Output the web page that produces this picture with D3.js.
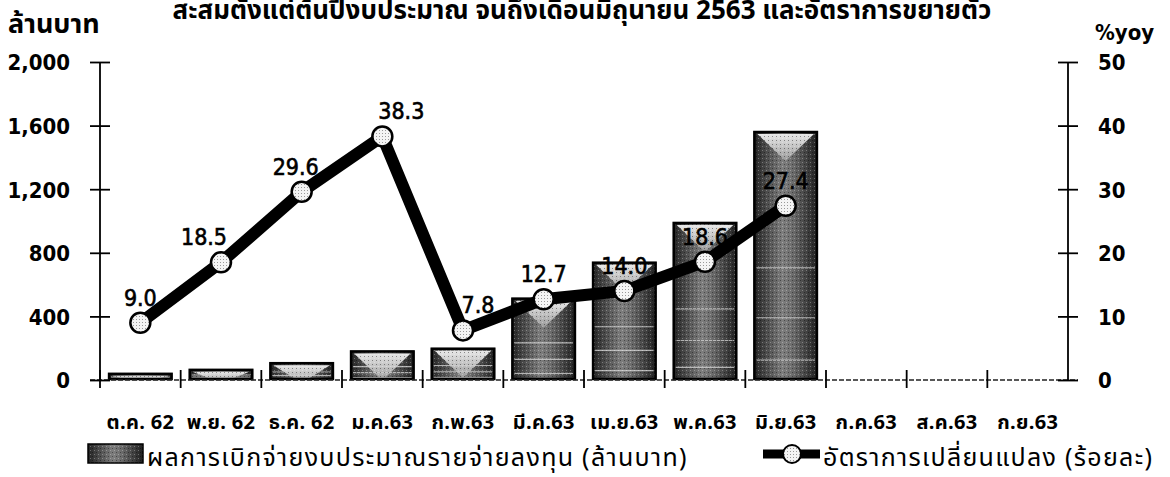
<!DOCTYPE html>
<html><head><meta charset="utf-8">
<script src="https://cdn.jsdelivr.net/npm/d3@7"></script>
<style>
html,body{margin:0;padding:0;background:#fff;}
svg{display:block;}
.num{font-family:"DejaVu Sans Condensed","DejaVu Sans",Tahoma,sans-serif;font-weight:bold;fill:#000;}
.thai{font-family:Tahoma,"Noto Sans Thai","Noto Sans Thai UI","Loma","Garuda","Noto Sans","DejaVu Sans",sans-serif;fill:#000;}
</style></head><body>
<svg id="chart" width="1170" height="477"></svg>
<script>
const categories = ["ต.ค. 62","พ.ย. 62","ธ.ค. 62","ม.ค.63","ก.พ.63","มี.ค.63","เม.ย.63","พ.ค.63","มิ.ย.63","ก.ค.63","ส.ค.63","ก.ย.63"];
const budget = [45, 70, 112, 186, 203, 518, 744, 994, 1566, null, null, null];
const growth = [9.0, 18.5, 29.6, 38.3, 7.8, 12.7, 14.0, 18.6, 27.4, null, null, null];
const leftTicks = [0, 400, 800, 1200, 1600, 2000];
const rightTicks = [0, 10, 20, 30, 40, 50];
const titleText = "สะสมตั้งแต่ต้นปีงบประมาณ จนถึงเดือนมิถุนายน 2563 และอัตราการขยายตัว";
const leftUnit = "ล้านบาท";
const rightUnit = "%yoy";
const legendBar = "ผลการเบิกจ่ายงบประมาณรายจ่ายลงทุน (ล้านบาท)";
const legendLine = "อัตราการเปลี่ยนแปลง (ร้อยละ)";

const svg = d3.select("#chart");
const L = 100, R = 1068, T = 62, B = 380;

const x = d3.scaleBand().domain(categories).range([L, R]).paddingInner(0.2).paddingOuter(0.1);
const yL = d3.scaleLinear().domain([0, 2000]).range([B, T]);
const yR = d3.scaleLinear().domain([0, 50]).range([B, T]);

const defs = svg.append("defs");
const g1 = defs.append("linearGradient").attr("id","barGrad").attr("x1","0").attr("x2","1").attr("y1","0").attr("y2","0");
g1.append("stop").attr("offset","0%").attr("stop-color","#222");
g1.append("stop").attr("offset","45%").attr("stop-color","#7e7e7e");
g1.append("stop").attr("offset","60%").attr("stop-color","#6e6e6e");
g1.append("stop").attr("offset","100%").attr("stop-color","#1e1e1e");
const g2 = defs.append("linearGradient").attr("id","triGrad").attr("x1","0").attr("x2","0").attr("y1","0").attr("y2","1");
g2.append("stop").attr("offset","0%").attr("stop-color","#e8e8e8");
g2.append("stop").attr("offset","100%").attr("stop-color","#9a9a9a");
const pat = defs.append("pattern").attr("id","speck").attr("width",4).attr("height",4).attr("patternUnits","userSpaceOnUse");
pat.append("rect").attr("x",0).attr("y",0).attr("width",1).attr("height",1).attr("fill","#000").attr("opacity",0.4);
pat.append("rect").attr("x",2).attr("y",2).attr("width",1).attr("height",1).attr("fill","#fff").attr("opacity",0.3);
const pat2 = defs.append("pattern").attr("id","dots").attr("width",3).attr("height",3).attr("patternUnits","userSpaceOnUse");
pat2.append("rect").attr("width",3).attr("height",3).attr("fill","#f4f4f4");
pat2.append("rect").attr("x",1).attr("y",1).attr("width",1).attr("height",1).attr("fill","#999");

// Title (partially cut off at top, as in the reference)
svg.append("text").attr("class","thai").attr("x",582).attr("y",19).attr("text-anchor","middle")
  .style("font-size","26px").style("font-weight","bold").text(titleText);
svg.append("text").attr("class","thai").attr("x",8).attr("y",33)
  .style("font-size","27px").style("font-weight","bold").text(leftUnit);
svg.append("text").attr("class","num").attr("x",1095).attr("y",40)
  .style("font-size","22px").text(rightUnit);

// Bars
const barData = categories.map((c,i)=>({c, v: budget[i]})).filter(d=>d.v!=null);
const bars = svg.append("g");
barData.forEach((d,i)=>{
  const bx = x(d.c), bw = x.bandwidth(), by = yL(d.v), bh = yL(0)-yL(d.v);
  const clipId = "clip"+i;
  defs.append("clipPath").attr("id",clipId).append("rect").attr("x",bx).attr("y",by).attr("width",bw).attr("height",bh);
  const gb = bars.append("g").attr("clip-path",`url(#${clipId})`);
  gb.append("rect").attr("x",bx).attr("y",by).attr("width",bw).attr("height",bh).attr("fill","url(#barGrad)");
  const th = Math.min(27, bh);
  gb.append("path").attr("d",`M${bx+4},${by+3} L${bx+bw-4},${by+3} L${bx+bw/2},${by+3+th} Z`).attr("fill","url(#triGrad)");
  [0.55,0.75,0.92].forEach(f=>{
    gb.append("line").attr("x1",bx+3).attr("x2",bx+bw-3)
      .attr("y1",by+bh*f).attr("y2",by+bh*f).attr("stroke","#cfcfcf").attr("stroke-width",1.2).attr("opacity",0.8);
  });
  gb.append("rect").attr("x",bx).attr("y",by).attr("width",bw).attr("height",bh).attr("fill","url(#speck)");
  bars.append("rect").attr("x",bx+1).attr("y",by+1).attr("width",bw-2).attr("height",Math.max(bh-2,0))
    .attr("fill","none").attr("stroke","#000").attr("stroke-width",2.5);
});

// x axis baseline (dashed)
svg.append("line").attr("x1",L-10).attr("x2",R+10).attr("y1",B).attr("y2",B)
  .attr("stroke","#222").attr("stroke-width",1.5).attr("stroke-dasharray","5,2");
// category boundary ticks
categories.forEach((c,i)=>{
  const bx = L + x.step()*i;
  svg.append("line").attr("x1",bx).attr("x2",bx).attr("y1",B-10).attr("y2",B+8).attr("stroke","#000").attr("stroke-width",1.8);
});
// category labels
const xa = svg.append("g").attr("transform",`translate(0,${B})`)
  .call(d3.axisBottom(x).tickSize(0).tickPadding(0));
xa.select(".domain").remove();
xa.selectAll("text").attr("class","thai").attr("y",49).attr("dy",0)
  .style("font-size","20px").style("font-weight","bold").style("letter-spacing","0.3px").attr("fill","#000");

// left axis
const la = svg.append("g").attr("transform",`translate(${L},0)`)
  .call(d3.axisLeft(yL).tickValues(leftTicks).tickFormat(d3.format(",")).tickSize(10).tickPadding(20));
la.select(".domain").attr("d",`M0,${T}V${B}`).attr("stroke","#000").attr("stroke-width",1.8);
la.selectAll(".tick line").attr("x1",-10).attr("x2",10).attr("stroke","#000").attr("stroke-width",1.8);
la.selectAll(".tick text").attr("class","num").style("font-size","22px").attr("dy","0.36em");

// right axis
const ra = svg.append("g").attr("transform",`translate(${R},0)`)
  .call(d3.axisRight(yR).tickValues(rightTicks).tickSize(10).tickPadding(20));
ra.select(".domain").attr("d",`M0,${T}V${B}`).attr("stroke","#000").attr("stroke-width",1.8);
ra.selectAll(".tick line").attr("x1",-10).attr("x2",10).attr("stroke","#000").attr("stroke-width",1.8);
ra.selectAll(".tick text").attr("class","num").style("font-size","22px").attr("dy","0.36em");

// line
const lineData = categories.map((c,i)=>({c, v: growth[i]})).filter(d=>d.v!=null);
const cx = d => x(d.c) + x.bandwidth()/2;
svg.append("path").datum(lineData)
  .attr("d", d3.line().x(cx).y(d=>yR(d.v)))
  .attr("fill","none").attr("stroke","#000").attr("stroke-width",12).attr("stroke-linejoin","miter");
svg.append("g").selectAll("circle").data(lineData).join("circle")
  .attr("cx",cx).attr("cy",d=>yR(d.v)).attr("r",10)
  .attr("fill","url(#dots)").attr("stroke","#000").attr("stroke-width",2.5);

// data labels
const labelShift = [0,-17,-6,19,15,0,0,0,0];
svg.append("g").selectAll("text").data(lineData).join("text")
  .attr("class","num").attr("text-anchor","middle")
  .attr("x",(d,i)=>cx(d)+labelShift[i]).attr("y",d=>yR(d.v)-17)
  .style("font-size","23px").style("font-weight","normal").style("stroke","#000").style("stroke-width","0.6px")
  .text(d=>d3.format(".1f")(d.v));

// legend
const lg = svg.append("g");
lg.append("rect").attr("x",88).attr("y",444).attr("width",55).attr("height",19).attr("fill","url(#barGrad)");
lg.append("rect").attr("x",88).attr("y",444).attr("width",55).attr("height",19).attr("fill","url(#speck)");
lg.append("rect").attr("x",88).attr("y",444).attr("width",55).attr("height",19).attr("fill","none").attr("stroke","#000").attr("stroke-width",1.5);
lg.append("text").attr("class","thai").attr("x",147).attr("y",466).style("font-size","25px").style("letter-spacing","1.3px").text(legendBar);
lg.append("line").attr("x1",763).attr("x2",820).attr("y1",454).attr("y2",454).attr("stroke","#000").attr("stroke-width",9);
lg.append("circle").attr("cx",792).attr("cy",454).attr("r",9).attr("fill","url(#dots)").attr("stroke","#000").attr("stroke-width",2);
lg.append("text").attr("class","thai").attr("x",823).attr("y",466).style("font-size","25px").style("letter-spacing","1.3px").text(legendLine);
</script>
</body></html>
